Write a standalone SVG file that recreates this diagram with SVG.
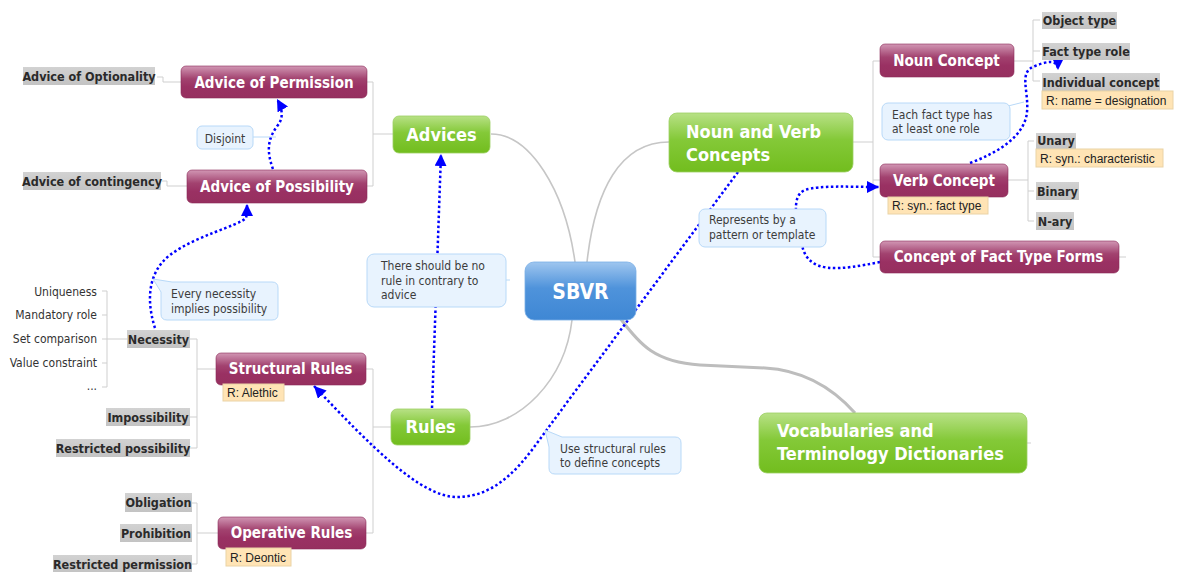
<svg xmlns="http://www.w3.org/2000/svg" width="1179" height="572" viewBox="0 0 1179 572">
<defs>
<linearGradient id="gPurple" x1="0" y1="0" x2="0" y2="1">
<stop offset="0" stop-color="#d197b4"/><stop offset="0.4" stop-color="#a2426f"/><stop offset="0.65" stop-color="#9a3163"/><stop offset="1" stop-color="#96305f"/>
</linearGradient>
<linearGradient id="gGreen" x1="0" y1="0" x2="0" y2="1">
<stop offset="0" stop-color="#b8e186"/><stop offset="0.45" stop-color="#84c938"/><stop offset="1" stop-color="#72bd1e"/>
</linearGradient>
<linearGradient id="gBlue" x1="0" y1="0" x2="0" y2="1">
<stop offset="0" stop-color="#9fc6ef"/><stop offset="0.45" stop-color="#4f93db"/><stop offset="1" stop-color="#3f87d4"/>
</linearGradient>
<linearGradient id="gGray" x1="0" y1="0" x2="0" y2="1">
<stop offset="0" stop-color="#d2d2d2"/><stop offset="1" stop-color="#c3c3c3"/>
</linearGradient>
<marker id="arr" markerUnits="userSpaceOnUse" markerWidth="13" markerHeight="12" refX="12" refY="6" orient="auto">
<path d="M0,0 L12,6 L0,12 Z" fill="#0000ff"/>
</marker>
<style>
.purple{fill:url(#gPurple);stroke:#8c2a58;stroke-width:0.6}
.green{fill:url(#gGreen);stroke:#9ccf63;stroke-width:0.8}
.blue{fill:url(#gBlue);stroke:#7aaee6;stroke-width:0.8}
.gray{fill:url(#gGray)}
.note{fill:#ffe4b5;stroke:#ead3a6;stroke-width:1}
.callout{fill:#e8f3fe;stroke:#b8d9f8;stroke-width:1}
.tw{font-family:"DejaVu Sans Condensed","DejaVu Sans",sans-serif;font-stretch:condensed;font-weight:bold;fill:#ffffff;text-anchor:middle}
.t15{font-size:15px}
.t18{font-size:18px}
.tl{font-family:"DejaVu Sans Condensed","DejaVu Sans",sans-serif;font-stretch:condensed;font-weight:bold;font-size:12.5px;fill:#2a2a2a;text-anchor:middle}
.tc{font-family:"DejaVu Sans Condensed","DejaVu Sans",sans-serif;font-stretch:condensed;font-size:12px;fill:#3c3c3c}
.tp{font-family:"DejaVu Sans Condensed","DejaVu Sans",sans-serif;font-stretch:condensed;font-size:12px;fill:#333333;text-anchor:end}
.tn{font-family:"Liberation Sans",Arial,sans-serif;font-size:12px;fill:#222222}
.branch{fill:none;stroke:#cfcfcf;stroke-width:1}
.main{fill:none;stroke:#c6c6c6;stroke-width:1.6}
.thick{fill:none;stroke:#bdbdbd;stroke-width:3}
.rel{fill:none;stroke:#0000ff;stroke-width:2.5;stroke-dasharray:2.5 2.5;marker-end:url(#arr)}
</style>
</defs>

<g id="connectors">
<path class="main" d="M491,134 C530,134 565,190 575,262"/>
<path class="main" d="M587,262 C595,190 620,142 669,142"/>
<path class="main" d="M572,320 C565,380 520,427 470,427"/>
<path class="thick" d="M620,318 C640,345 655,362 700,365 L765,368 C800,370 830,385 855,413"/>
<path class="branch" d="M393,134 H373 M373,82 V186 M367,82 H373 M367,186 H373"/>
<path class="branch" d="M181,82 H163 V77 H157 M187,186 H167 V181 H162"/>
<path class="branch" d="M391,427 H373 M373,369 V533 M366,369 H373 M366,533 H373"/>
<path class="branch" d="M216,369 H197 M197,339 V448 M190,339 H197 M190,417 H197 M190,448 H197"/>
<path class="branch" d="M218,533 H197 M197,503 V564 M192,503 H197 M192,564 H197"/>
<path class="branch" d="M127,339 H102 M107,291 V387 M102,291 H107 M102,315 H107 M102,363 H107 M102,387 H107"/>
<path class="branch" d="M853,142 H873 M873,61 V257 M873,61 H880 M873,180 H880 M873,257 H880"/>
<path class="branch" d="M1014,61 H1033 M1033,20 V81 M1033,20 H1040 M1033,51 H1040 M1033,81 H1040"/>
<path class="branch" d="M1008,180 H1028 M1028,141 V221 M1028,141 H1034 M1028,191 H1034 M1028,221 H1034"/>
<path class="branch" d="M1119,257 H1126 M1027,443 H1031"/>
<path class="rel" d="M273,169 C266,150 268,138 278,125 C284,117 282,108 277,99"/>
<path class="rel" d="M155,328 C146,300 148,272 170,255 C195,236 238,226 246,218 C247,214 247,210 247,204"/>
<path class="rel" d="M432,408 L441,154"/>
<path class="rel" d="M738,172 L548,428 C525,460 500,497 457,497 C420,497 370,445 314,386"/>
<path class="rel" d="M880,262 C840,270 808,275 802,245 C797,222 790,196 805,190 C820,185 850,187 879,187"/>
<path class="rel" d="M970,163 C1000,152 1025,135 1027,112 C1029,90 1018,72 1035,66 C1045,62 1058,58 1058,70"/>
</g>

<g id="n-sbvr"><rect class="blue" x="525" y="262" width="111" height="58" rx="9"/><text class="tw" x="580.5" y="299" font-size="21">SBVR</text></g>
<g id="n-advices"><rect class="green" x="393" y="116" width="97" height="37" rx="6"/><text class="tw t18" x="441.5" y="141">Advices</text></g>
<g id="n-rules"><rect class="green" x="391" y="409" width="79" height="36" rx="6"/><text class="tw t18" x="430.5" y="433">Rules</text></g>
<g id="n-nvc"><rect class="green" x="669" y="113" width="184" height="59" rx="8"/><text class="tw t18" x="686" y="138" style="text-anchor:start">Noun and Verb</text><text class="tw t18" x="686" y="161" style="text-anchor:start">Concepts</text></g>
<g id="n-vocab"><rect class="green" x="759" y="413" width="268" height="60" rx="8"/><text class="tw t18" x="777" y="437" style="text-anchor:start">Vocabularies and</text><text class="tw t18" x="777" y="460" style="text-anchor:start">Terminology Dictionaries</text></g>

<g id="n-perm"><rect class="purple" x="181" y="66" width="186" height="32" rx="5"/><text class="tw t15" x="274" y="87.5">Advice of Permission</text></g>
<g id="n-poss"><rect class="purple" x="187" y="170" width="180" height="33" rx="5"/><text class="tw t15" x="277" y="191.5">Advice of Possibility</text></g>
<g id="n-struct"><rect class="purple" x="216" y="353" width="150" height="32" rx="5"/><text class="tw t15" x="290.5" y="374">Structural Rules</text></g>
<g id="n-oper"><rect class="purple" x="218" y="517" width="148" height="32" rx="5"/><text class="tw t15" x="291.5" y="538">Operative Rules</text></g>
<g id="n-noun"><rect class="purple" x="880" y="44" width="134" height="33" rx="5"/><text class="tw t15" x="946.5" y="66">Noun Concept</text></g>
<g id="n-verb"><rect class="purple" x="880" y="164" width="128" height="33" rx="5"/><text class="tw t15" x="944" y="185.5">Verb Concept</text></g>
<g id="n-forms"><rect class="purple" x="880" y="241" width="239" height="32" rx="5"/><text class="tw t15" x="998.5" y="262">Concept of Fact Type Forms</text></g>

<g id="n-optionality"><rect class="gray" x="23" y="67" width="132" height="18"/><text class="tl" x="89" y="81">Advice of Optionality</text></g>
<g id="n-contingency"><rect class="gray" x="23" y="172" width="138" height="18"/><text class="tl" x="92" y="186">Advice of contingency</text></g>
<g id="n-necessity"><rect class="gray" x="127" y="330" width="63" height="18"/><text class="tl" x="158.5" y="344">Necessity</text></g>
<g id="n-impossibility"><rect class="gray" x="106" y="408" width="84" height="18"/><text class="tl" x="148" y="422">Impossibility</text></g>
<g id="n-restposs"><rect class="gray" x="56" y="439" width="134" height="18"/><text class="tl" x="123" y="453">Restricted possibility</text></g>
<g id="n-obligation"><rect class="gray" x="125" y="493" width="67" height="19"/><text class="tl" x="158.5" y="507">Obligation</text></g>
<g id="n-prohibition"><rect class="gray" x="120" y="524" width="72" height="18"/><text class="tl" x="156" y="538">Prohibition</text></g>
<g id="n-restperm"><rect class="gray" x="53" y="555" width="139" height="18"/><text class="tl" x="122.5" y="569">Restricted permission</text></g>
<g id="n-objtype"><rect class="gray" x="1042" y="12" width="75" height="17"/><text class="tl" x="1079.5" y="25">Object type</text></g>
<g id="n-factrole"><rect class="gray" x="1042" y="43" width="88" height="17"/><text class="tl" x="1086" y="56">Fact type role</text></g>
<g id="n-indiv"><rect class="gray" x="1042" y="73" width="118" height="18"/><text class="tl" x="1101" y="87">Individual concept</text><rect class="note" x="1042" y="91" width="131" height="18"/><text class="tn" x="1046" y="104.5">R: name = designation</text></g>
<g id="n-unary"><rect class="gray" x="1036" y="133" width="40" height="16"/><text class="tl" x="1056" y="145">Unary</text><rect class="note" x="1036" y="149" width="127" height="18"/><text class="tn" x="1040" y="162.5">R: syn.: characteristic</text></g>
<g id="n-binary"><rect class="gray" x="1036" y="182" width="43" height="18"/><text class="tl" x="1057.5" y="196">Binary</text></g>
<g id="n-nary"><rect class="gray" x="1036" y="212" width="38" height="18"/><text class="tl" x="1055" y="226">N-ary</text></g>
<g id="n-notes"><rect class="note" x="888" y="197" width="100" height="17"/><text class="tn" x="892" y="210">R: syn.: fact type</text><rect class="note" x="223" y="384" width="61" height="17"/><text class="tn" x="227" y="397">R: Alethic</text><rect class="note" x="226" y="548" width="65" height="18"/><text class="tn" x="230" y="561.5">R: Deontic</text></g>

<g id="n-necessity-items">
<text class="tp" x="97" y="296">Uniqueness</text>
<text class="tp" x="97" y="319">Mandatory role</text>
<text class="tp" x="97" y="343">Set comparison</text>
<text class="tp" x="97" y="367">Value constraint</text>
<text class="tp" x="97" y="390">...</text>
</g>

<g id="c-disjoint"><path class="branch" d="M253,137 H276" style="stroke:#b8d9f8"/><rect class="callout" x="197" y="126" width="56" height="23" rx="5"/><text class="tc" x="225" y="143" text-anchor="middle">Disjoint</text></g>
<g id="c-every"><path class="callout" d="M153,279 L172,282 H272 Q278,282 278,288 V314 Q278,320 272,320 H167 Q161,320 161,314 V292 Z"/><text class="tc" x="171" y="298">Every necessity</text><text class="tc" x="171" y="313">implies possibility</text></g>
<g id="c-nocontrary"><path class="branch" d="M506,280 H510" style="stroke:#b8d9f8"/><rect class="callout" x="367" y="254" width="139" height="53" rx="7"/><text class="tc" x="381" y="270">There should be no</text><text class="tc" x="381" y="285">rule in contrary to</text><text class="tc" x="381" y="299">advice</text></g>
<g id="c-usestruct"><path class="callout" d="M545,430 L562,437 H675 Q681,437 681,443 V468 Q681,474 675,474 H555 Q549,474 549,468 V447 Z"/><text class="tc" x="560" y="453">Use structural rules</text><text class="tc" x="560" y="467">to define concepts</text></g>
<g id="c-eachfact"><path class="branch" d="M1008,106 L1024,102" style="stroke:#b8d9f8"/><rect class="callout" x="882" y="103" width="128" height="37" rx="6"/><text class="tc" x="892" y="119">Each fact type has</text><text class="tc" x="892" y="133">at least one role</text></g>
<g id="c-represents"><rect class="callout" x="699" y="209" width="127" height="38" rx="6"/><text class="tc" x="709" y="224">Represents by a</text><text class="tc" x="709" y="239">pattern or template</text></g>
</svg>
